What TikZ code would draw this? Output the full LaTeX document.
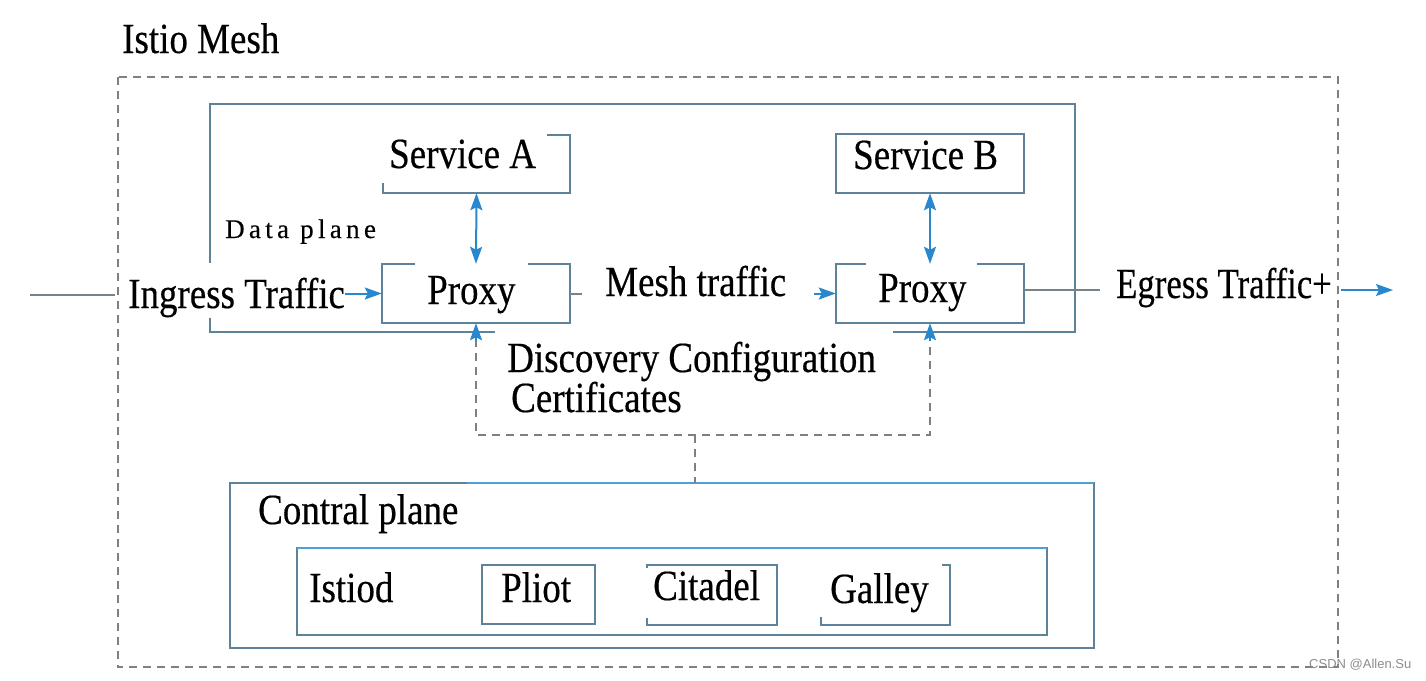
\documentclass[tikz,border=0pt]{standalone}
\usepackage{fontspec}
\setmainfont{Liberation Serif}[FakeStretch=0.86,FakeBold=0.4]
\newfontfamily\dpfont{Liberation Serif}[LetterSpace=16,FakeBold=0.3]
\newfontfamily\wmfont{Liberation Sans}
\usetikzlibrary{arrows.meta}
\definecolor{edge}{RGB}{95,130,155}
\definecolor{edgeblue}{RGB}{80,160,215}
\definecolor{arr}{RGB}{40,135,205}
\definecolor{arrlight}{RGB}{90,175,225}
\definecolor{dgray}{RGB}{125,128,132}
\definecolor{sgray}{RGB}{120,130,138}
\begin{document}
\begin{tikzpicture}[x=1pt,y=-1pt,
  lbl/.style={anchor=base west, inner sep=0pt, font=\fontsize{43}{48}\selectfont},
  frame/.style={inner sep=0pt, draw=none},
  edgeline/.style={draw=edge, line width=2pt},
  dline/.style={draw=dgray, line width=2pt, dash pattern=on 8pt off 6pt},
  gline/.style={draw=sgray, line width=2pt},
  arrline/.style={draw=arr, line width=2pt},
  tipA/.style={-{Stealth[length=17pt,width=12pt,inset=3pt]}},
  tipB/.style={{Stealth[length=17pt,width=12pt,inset=3pt]}-{Stealth[length=17pt,width=12pt,inset=3pt]}}
]
\useasboundingbox (0,0) rectangle (1426,680);

% outer mesh
\node[frame, minimum width=1220pt, minimum height=590pt] (mesh) at (728,372) {};
\draw[dline] (mesh.north west) rectangle (mesh.south east);
\node[lbl] (title) at (122,53) {Istio Mesh};

% data plane box
\node[frame, minimum width=865pt, minimum height=228pt] (dp) at (642.5,218) {};
\draw[edgeline] ([yshift=-159pt]dp.north west) -- (dp.north west) -- (dp.north east) -- (dp.south east) -- ([xshift=-182pt]dp.south east);
\draw[edgeline] ([xshift=285pt]dp.south west) -- (dp.south west) -- ([yshift=14pt]dp.south west);
\node[anchor=base west, inner sep=0pt, font=\dpfont\fontsize{27}{30}\selectfont] (dpl) at (225,238) {Data plane};

% services and proxies
\node[frame, minimum width=187pt, minimum height=58pt] (sa) at (476.5,164) {};
\draw[edgeline] ([xshift=-23pt]sa.north east) -- (sa.north east) -- (sa.south east) -- (sa.south west) -- ([yshift=10pt]sa.south west);
\node[lbl] (sat) at (389,168) {Service A};

\node[frame, minimum width=188pt, minimum height=59pt] (sb) at (930,163.5) {};
\draw[edgeline] (sb.north west) rectangle (sb.south east);
\node[lbl] (sbt) at (853,169) {Service B};

\node[frame, minimum width=188pt, minimum height=59pt] (pa) at (476,293.5) {};
\draw[edgeline] ([xshift=33pt]pa.north west) -- (pa.north west) -- (pa.south west) -- (pa.south east) -- (pa.north east) -- ([xshift=-42pt]pa.north east);
\node[lbl] (pat) at (427,304) {Proxy};

\node[frame, minimum width=188pt, minimum height=59pt] (pb) at (930,293.5) {};
\draw[edgeline] ([xshift=30pt]pb.north west) -- (pb.north west) -- (pb.south west) -- (pb.south east) -- (pb.north east) -- ([xshift=-47pt]pb.north east);
\node[lbl] (pbt) at (878,302) {Proxy};

% service <-> proxy
\draw[draw=arrlight, line width=2pt, tipB, arr] (sa.south) -- (pa.north);
\draw[draw=arrlight, line width=2pt, tipB, arr] (sb.south) -- (pb.north);

% ingress
\node[lbl] (ing) at (128,308) {Ingress Traffic};
\coordinate (in0) at (30,295);
\coordinate (in1) at (115,295);
\draw[gline] (in0) -- (in1);
\draw[arrline, tipA] (ing.east |- pa.west) -- (pa.west);

% mesh traffic
\node[lbl] (mt) at (605,296) {Mesh traffic};
\coordinate (ms) at (582,293.5);
\draw[gline] (pa.east) -- (ms);
\draw[arrline, tipA] ([xshift=-22pt]pb.west) -- (pb.west);

% egress
\node[lbl, xscale=0.94] (eg) at (1116,298) {Egress Traffic+};
\coordinate (eg0) at (1100,290);
\coordinate (eg1) at (1341,290);
\coordinate (eg2) at (1393,290);
\draw[gline] (pb.east |- eg0) -- (eg0);
\draw[arrline, tipA] (eg1) -- (eg2);

% discovery
\coordinate (dl) at (476,435);
\coordinate (dr) at (930,435);
\coordinate (dm) at (695,435);
\draw[dline] ([yshift=-16pt]pa.south) -- (dl) -- (dr) -- ([yshift=-16pt]pb.south);
\draw[arrline, tipA] ([yshift=-18pt]pa.south) -- (pa.south);
\draw[arrline, tipA] ([yshift=-18pt]pb.south) -- (pb.south);
\node[lbl] (disc) at (507,372) {Discovery Configuration};
\node[lbl] (cert) at (511,412) {Certificates};

% control plane
\node[frame, minimum width=864pt, minimum height=165pt] (cp) at (662,565.5) {};
\draw[edgeline] (cp.north west) rectangle (cp.south east);
\draw[draw=edgeblue, line width=2pt] ([xshift=237pt]cp.north west) -- (cp.north east);
\draw[dline] (dm) -- (dm |- cp.north);
\node[lbl] (cpt) at (258,524) {Contral plane};

\node[frame, minimum width=750pt, minimum height=87pt] (ib) at (672,591.5) {};
\draw[edgeline] (ib.north west) rectangle (ib.south east);
\draw[draw=edgeblue, line width=2pt] (ib.north west) -- (ib.north east);
\node[lbl] (ist) at (309,602) {Istiod};

\node[frame, minimum width=113pt, minimum height=59pt] (pl) at (538.5,594.5) {};
\draw[edgeline] (pl.north west) rectangle (pl.south east);
\node[lbl] (plt) at (501,602) {Pliot};

\node[frame, minimum width=130pt, minimum height=60pt] (ci) at (712,595) {};
\draw[edgeline] ([yshift=7pt]ci.south west) -- (ci.south west) -- (ci.south east) -- (ci.north east) -- (ci.north west) -- ([yshift=-3pt]ci.north west);
\node[lbl] (cit) at (653,600) {Citadel};

\node[frame, minimum width=129pt, minimum height=60pt] (ga) at (885.5,595) {};
\draw[edgeline] ([xshift=-8pt]ga.north east) -- (ga.north east) -- (ga.south east) -- (ga.south west) -- ([yshift=8pt]ga.south west);
\node[lbl] (gat) at (830,603) {Galley};

% watermark
\node[anchor=base west, inner sep=0pt, font=\wmfont\fontsize{13}{15}\selectfont, text=black!45] (wm) at (1309,668) {CSDN @Allen.Su};
\end{tikzpicture}
\end{document}
